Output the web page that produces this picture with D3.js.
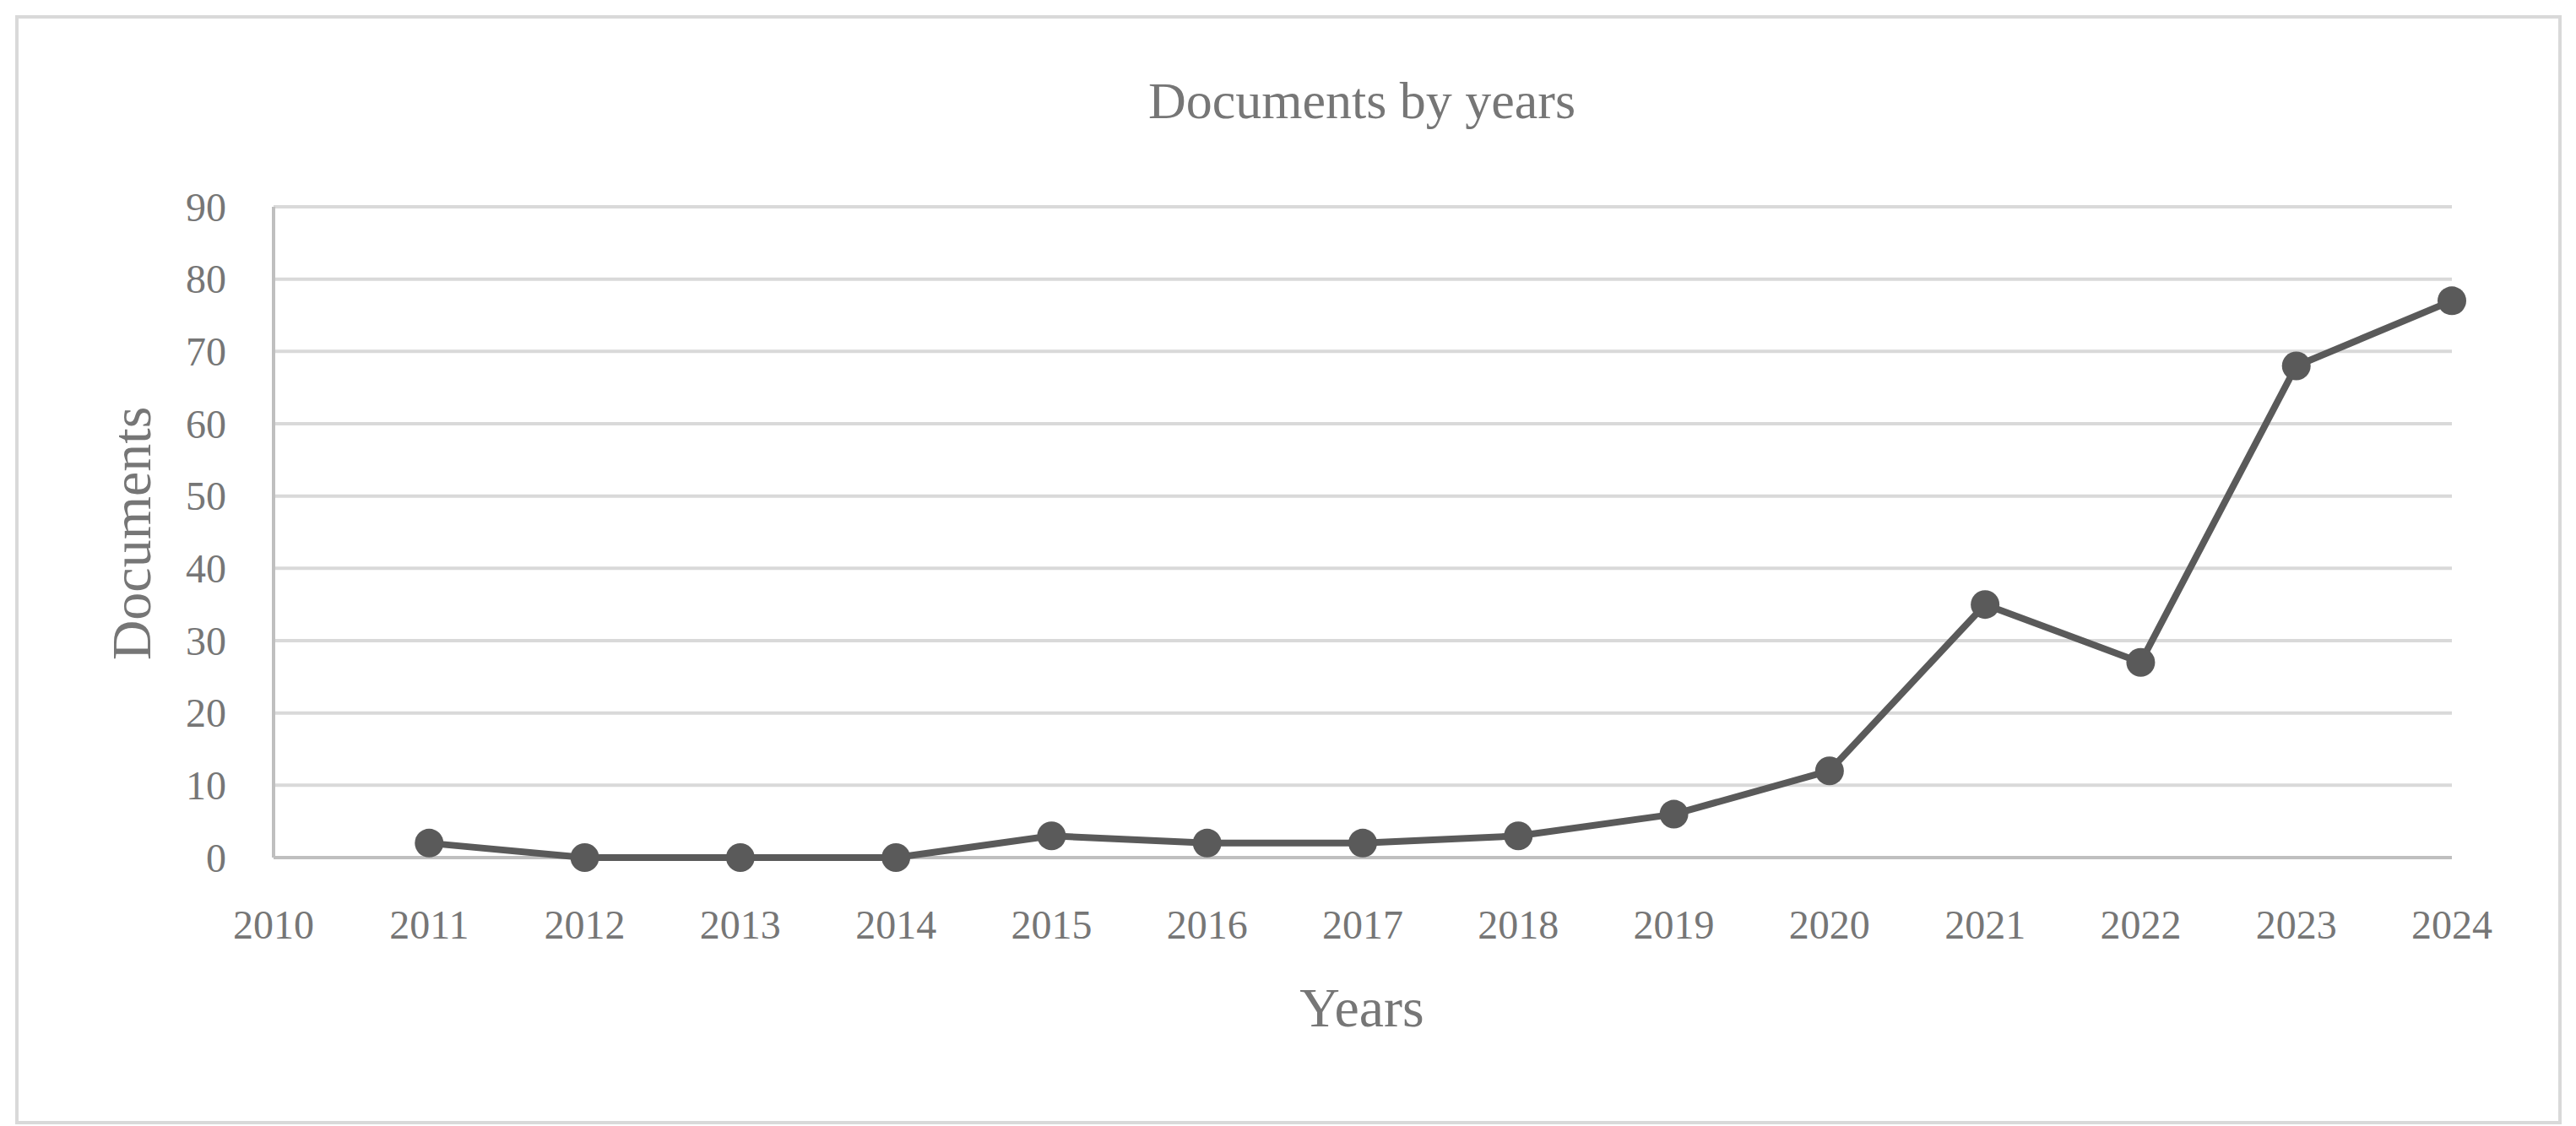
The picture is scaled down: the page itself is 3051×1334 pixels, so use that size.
<!DOCTYPE html>
<html>
<head>
<meta charset="utf-8">
<script src="https://cdn.jsdelivr.net/npm/d3@7"></script>
<style>
  body { margin: 0; background: #fff; }
  text { font-family: "Palatino Linotype", "Liberation Serif", serif; }
</style>
</head>
<body>
<svg id="chart" width="3051" height="1334"></svg>
<script>
// data
const years = [2011, 2012, 2013, 2014, 2015, 2016, 2017, 2018, 2019, 2020, 2021, 2022, 2023, 2024];
const documents = [2, 0, 0, 0, 3, 2, 2, 3, 6, 12, 35, 27, 68, 77];
const xTicks = [2010, 2011, 2012, 2013, 2014, 2015, 2016, 2017, 2018, 2019, 2020, 2021, 2022, 2023, 2024];
const yTicks = [0, 10, 20, 30, 40, 50, 60, 70, 80, 90];

const svg = d3.select('#chart');

// outer frame
svg.append('rect')
  .attr('x', 20).attr('y', 20)
  .attr('width', 3012).attr('height', 1310)
  .attr('fill', '#fff').attr('stroke', '#d9d9d9').attr('stroke-width', 4);

const x = d3.scaleLinear().domain([2010, 2024]).range([324, 2904]);
const y = d3.scaleLinear().domain([0, 90]).range([1016, 245]);

// gridlines
svg.append('g')
  .selectAll('line')
  .data(yTicks.filter((d) => d > 0))
  .join('line')
  .attr('x1', x(2010)).attr('x2', x(2024))
  .attr('y1', (d) => y(d)).attr('y2', (d) => y(d))
  .attr('stroke', '#d9d9d9').attr('stroke-width', 4);

// axis lines
svg.append('line')
  .attr('x1', x(2010)).attr('x2', x(2024))
  .attr('y1', y(0)).attr('y2', y(0))
  .attr('stroke', '#bfbfbf').attr('stroke-width', 4);
svg.append('line')
  .attr('x1', x(2010)).attr('x2', x(2010))
  .attr('y1', y(0)).attr('y2', y(90))
  .attr('stroke', '#bfbfbf').attr('stroke-width', 4);

// y tick labels
svg.append('g')
  .selectAll('text')
  .data(yTicks)
  .join('text')
  .attr('x', 268)
  .attr('y', (d) => y(d))
  .attr('dy', '0.35em')
  .attr('text-anchor', 'end')
  .attr('font-size', 48)
  .attr('fill', '#767676')
  .text((d) => d);

// x tick labels
svg.append('g')
  .selectAll('text')
  .data(xTicks)
  .join('text')
  .attr('x', (d) => x(d))
  .attr('y', 1112)
  .attr('text-anchor', 'middle')
  .attr('font-size', 48)
  .attr('fill', '#767676')
  .text((d) => d);

// line + markers
const line = d3.line()
  .x((d, i) => x(years[i]))
  .y((d) => y(d));

svg.append('path')
  .datum(documents)
  .attr('d', line)
  .attr('fill', 'none')
  .attr('stroke', '#5a5a5a')
  .attr('stroke-width', 8)
  .attr('stroke-linejoin', 'round');

svg.append('g')
  .selectAll('circle')
  .data(documents)
  .join('circle')
  .attr('cx', (d, i) => x(years[i]))
  .attr('cy', (d) => y(d))
  .attr('r', 17)
  .attr('fill', '#5a5a5a');

// titles
svg.append('text')
  .attr('x', 1613).attr('y', 140)
  .attr('text-anchor', 'middle')
  .attr('font-size', 62)
  .attr('fill', '#767676')
  .text('Documents by years');

svg.append('text')
  .attr('x', 1613).attr('y', 1216)
  .attr('text-anchor', 'middle')
  .attr('font-size', 66)
  .attr('fill', '#767676')
  .text('Years');

svg.append('text')
  .attr('transform', 'translate(178, 632) rotate(-90)')
  .attr('text-anchor', 'middle')
  .attr('font-size', 66)
  .attr('fill', '#767676')
  .text('Documents');
</script>
</body>
</html>
